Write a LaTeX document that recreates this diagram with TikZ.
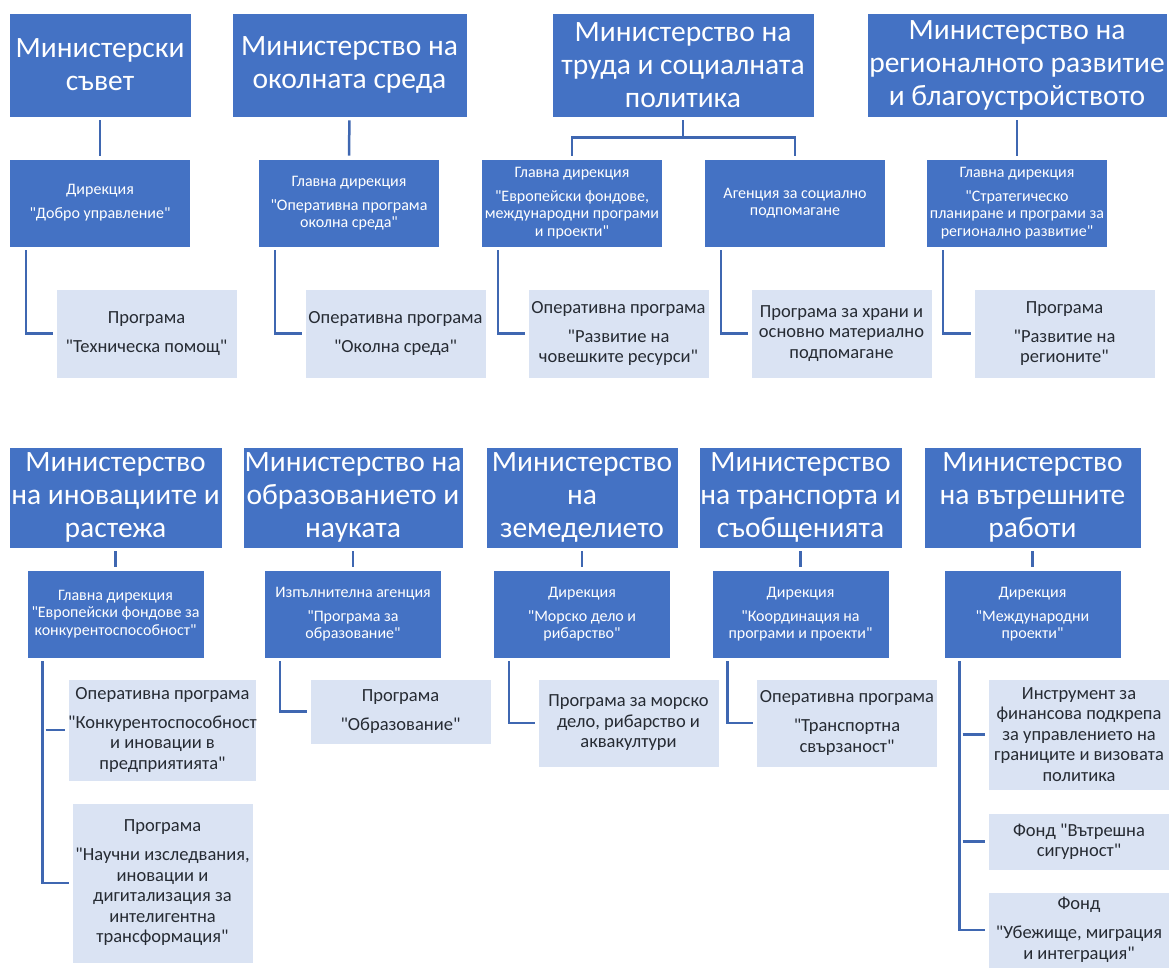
\documentclass[tikz,border=0pt]{standalone}
\usepackage{fontspec}
\setmainfont{Carlito}[Ligatures=TeXOff]
\usepackage{tikz}
\definecolor{boxblue}{HTML}{4472C4}
\definecolor{paleblue}{HTML}{DAE3F3}
\definecolor{linkblue}{HTML}{3F67B1}
\definecolor{progtext}{HTML}{262B33}
\tikzstyle{ministry} = [rectangle, minimum height=104pt, inner sep=0pt, align=center, text centered, draw=white, line width=0.8pt, fill=boxblue, text=white, font=\fontsize{29.5}{33}\selectfont]
\tikzstyle{directorate} = [rectangle, minimum width=181pt, minimum height=88pt, inner sep=0pt, align=center, text centered, draw=white, line width=0.8pt, fill=boxblue, text=white, font=\fontsize{16}{17.5}\selectfont]
\tikzstyle{programme} = [rectangle, minimum width=181pt, minimum height=89pt, inner sep=0pt, align=center, text centered, draw=white, line width=0.8pt, fill=paleblue, text=progtext, font=\fontsize{18.5}{20.5}\selectfont]
\tikzstyle{link} = [draw=linkblue, line width=2.5pt, shorten <=3pt, shorten >=3pt]

\begin{document}
\begin{tikzpicture}[x=1pt, y=-1pt]
\useasboundingbox (0,0) rectangle (1170,968);

\node (council) [ministry, minimum width=182pt] at (100,65) {Министерски\\съвет};
\node (env) [ministry, minimum width=235pt] at (349.5,65) {Министерство на\\околната среда};
\node (labour) [ministry, minimum width=262pt] at (683,65) {Министерство на\\труда и социалната\\политика};
\node (region) [ministry, minimum width=300pt] at (1017,65) {Министерство на\\регионалното развитие\\и благоустройството};

\node (coundir) [directorate] at (100,203) {Дирекция\\[6.5pt]"Добро управление"};
\node (envdir) [directorate] at (349,203) {Главна дирекция\\[6.5pt]"Оперативна програма\\околна среда"};
\node (labdir) [directorate] at (572,203) {Главна дирекция\\[6.5pt]"Европейски фондове,\\международни програми\\и проекти"};
\node (agency) [directorate] at (795,203) {Агенция за социално\\подпомагане};
\node (regdir) [directorate] at (1017,203) {Главна дирекция\\[6.5pt]"Стратегическо\\планиране и програми за\\регионално развитие"};

\node (counprog) [programme] at (146.5,333.5) {Програма\\[8.5pt]"Техническа помощ"};
\node (envprog) [programme] at (395.5,333.5) {Оперативна програма\\[8.5pt]"Околна среда"};
\node (labprog) [programme] at (618.5,333.5) {Оперативна програма\\[8.5pt]"Развитие на\\човешките ресурси"};
\node (foodprog) [programme] at (841.5,333.5) {Програма за храни и\\основно материално\\подпомагане};
\node (regprog) [programme] at (1064.5,333.5) {Програма\\[8.5pt]"Развитие на\\регионите"};

\node (innov) [ministry, minimum width=213pt, minimum height=101pt] at (115.5,497.5) {Министерство\\на иновациите и\\растежа};
\node (edu) [ministry, minimum width=220pt, minimum height=101pt] at (353,497.5) {Министерство на\\образованието и\\науката};
\node (agri) [ministry, minimum width=192pt, minimum height=101pt] at (582,497.5) {Министерство\\на\\земеделието};
\node (transp) [ministry, minimum width=203pt, minimum height=101pt] at (800.5,497.5) {Министерство\\на транспорта и\\съобщенията};
\node (interior) [ministry, minimum width=217pt, minimum height=101pt] at (1032.5,497.5) {Министерство\\на вътрешните\\работи};

\node (innovdir) [directorate, minimum width=177pt] at (115.5,614) {Главна дирекция\\"Европейски фондове за\\конкурентоспособност"};
\node (edudir) [directorate, minimum width=177pt] at (353,614) {Изпълнителна агенция\\[6.5pt]"Програма за\\образование"};
\node (agridir) [directorate, minimum width=177pt] at (582,614) {Дирекция\\[6.5pt]"Морско дело и\\рибарство"};
\node (transpdir) [directorate, minimum width=177pt] at (800.5,614) {Дирекция\\[6.5pt]"Координация на\\програми и проекти"};
\node (intdir) [directorate, minimum width=177pt] at (1032.5,614) {Дирекция\\[6.5pt]"Международни\\проекти"};

\node (innovprog) [programme, minimum height=102pt] at (162.5,730) {Оперативна програма\\[8.5pt]"Конкурентоспособност\\и иновации в\\предприятията"};
\node (researchprog) [programme, minimum height=160pt] at (162.5,883) {Програма\\[8.5pt]"Научни изследвания,\\иновации и\\дигитализация за\\интелигентна\\трансформация"};
\node (eduprog) [programme, minimum height=65pt] at (400.5,711.5) {Програма\\[8.5pt]"Образование"};
\node (fishprog) [programme, minimum height=88pt] at (628.5,723) {Програма за морско\\дело, рибарство и\\аквакултури};
\node (transpprog) [programme, minimum height=88pt] at (847,723) {Оперативна програма\\[8.5pt]"Транспортна\\свързаност"};
\node (borderprog) [programme, minimum height=111pt] at (1079,734.5) {Инструмент за\\финансова подкрепа\\за управлението на\\границите и визовата\\политика};
\node (secprog) [programme, minimum height=57pt] at (1079,841.5) {Фонд "Вътрешна\\сигурност"};
\node (asylprog) [programme, minimum height=76pt] at (1079,930) {Фонд\\[8.5pt]"Убежище, миграция\\и интеграция"};

\draw [link] (council) -- (coundir);
\draw [link] (env) -- (envdir);
\draw [link] (labour.south) -- ++(0,20) -| (labdir.north);
\draw [link] (labour.south) -- ++(0,20) -| (agency.north);
\draw [link] (region) -- (regdir);
\draw [link] ([xshift=17pt]coundir.south west) |- (counprog.west);
\draw [link] ([xshift=17pt]envdir.south west) |- (envprog.west);
\draw [link] ([xshift=17pt]labdir.south west) |- (labprog.west);
\draw [link] ([xshift=17pt]agency.south west) |- (foodprog.west);
\draw [link] ([xshift=17pt]regdir.south west) |- (regprog.west);

\draw [link] (innov) -- (innovdir);
\draw [link] (edu) -- (edudir);
\draw [link] (agri) -- (agridir);
\draw [link] (transp) -- (transpdir);
\draw [link] (interior) -- (intdir);
\draw [link] ([xshift=16pt]innovdir.south west) |- (researchprog.west);
\draw [link] ([xshift=16pt]innovdir.south west |- innovprog.west) -- (innovprog.west);
\draw [link] ([xshift=16pt]edudir.south west) |- (eduprog.west);
\draw [link] ([xshift=16pt]agridir.south west) |- (fishprog.west);
\draw [link] ([xshift=16pt]transpdir.south west) |- (transpprog.west);
\draw [link] ([xshift=16pt]intdir.south west) |- (asylprog.west);
\draw [link] ([xshift=16pt]intdir.south west |- borderprog.west) -- (borderprog.west);
\draw [link] ([xshift=16pt]intdir.south west |- secprog.west) -- (secprog.west);

\end{tikzpicture}
\end{document}
